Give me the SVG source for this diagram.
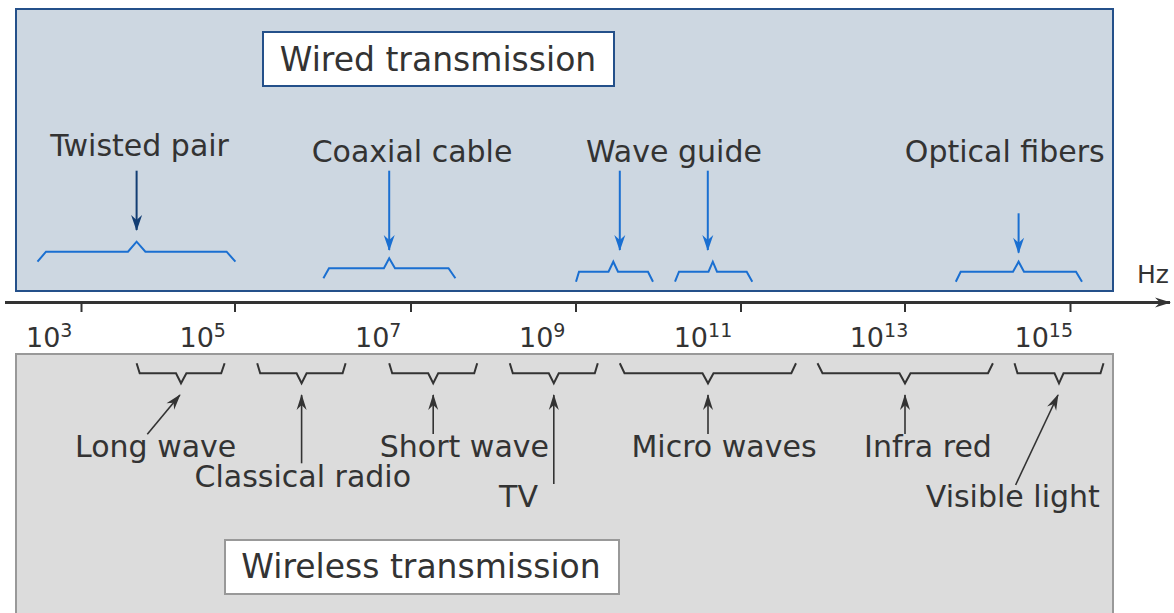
<svg xmlns="http://www.w3.org/2000/svg" width="1174" height="613" viewBox="0 0 1174 613">
<style>
text{font-family:"DejaVu Sans","Verdana",sans-serif;fill:#333}
.lbl{font-size:30px;text-anchor:middle}
.title{font-size:33px;text-anchor:middle}
.tick{font-size:27px}
.sup{font-size:19px}
.bb{fill:none;stroke:#1a6fd1;stroke-width:2}
.db{fill:none;stroke:#333;stroke-width:2}
.ab{stroke:#1a6fd1;stroke-width:2;fill:none}
.an{stroke:#123d73;stroke-width:2;fill:none}
.ad{stroke:#333;stroke-width:1.6;fill:none}
</style>
<defs>
<marker id="hb" markerUnits="userSpaceOnUse" markerWidth="20" markerHeight="14" viewBox="-16 -7 18 14" refX="0" refY="0" orient="auto"><path d="M1,0 L-15,-5.5 L-10,0 L-15,5.5 Z" fill="#1a6fd1"/></marker>
<marker id="hn" markerUnits="userSpaceOnUse" markerWidth="20" markerHeight="14" viewBox="-16 -7 18 14" refX="0" refY="0" orient="auto"><path d="M1,0 L-15,-5.5 L-10,0 L-15,5.5 Z" fill="#123d73"/></marker>
<marker id="hd" markerUnits="userSpaceOnUse" markerWidth="20" markerHeight="14" viewBox="-16 -7 18 14" refX="0" refY="0" orient="auto"><path d="M1,0 L-15,-5 L-10,0 L-15,5 Z" fill="#333"/></marker>
</defs>

<g id="wired-area">
<rect x="16" y="9" width="1097" height="282" fill="#cdd7e1" stroke="#24508a" stroke-width="2"/>
</g>
<g id="wireless-area">
<rect x="16" y="354" width="1097" height="270" fill="#dcdcdc" stroke="#999" stroke-width="2"/>
</g>

<g id="wired-title">
<rect x="263" y="32" width="351" height="54" fill="#fff" stroke="#24508a" stroke-width="2"/>
<text class="title" x="438" y="71">Wired transmission</text>
</g>
<g id="wireless-title">
<rect x="225" y="540" width="394" height="54" fill="#fff" stroke="#999" stroke-width="2"/>
<text class="title" x="421" y="578">Wireless transmission</text>
</g>

<g id="axis">
<line x1="5" y1="302.5" x2="1170" y2="302.5" stroke="#333" stroke-width="3" marker-end="url(#hd)"/>
<g stroke="#333" stroke-width="2">
<line x1="81.5" y1="302" x2="81.5" y2="312"/>
<line x1="235" y1="302" x2="235" y2="312"/>
<line x1="411" y1="302" x2="411" y2="312"/>
<line x1="576" y1="302" x2="576" y2="312"/>
<line x1="741" y1="302" x2="741" y2="312"/>
<line x1="905" y1="302" x2="905" y2="312"/>
<line x1="1070.5" y1="302" x2="1070.5" y2="312"/>
</g>
<text x="1153" y="283" style="font-size:25px;text-anchor:middle">Hz</text>
<text class="tick" x="26" y="346.5">10<tspan class="sup" dy="-9.5">3</tspan></text>
<text class="tick" x="179.5" y="346.5">10<tspan class="sup" dy="-9.5">5</tspan></text>
<text class="tick" x="355" y="346.5">10<tspan class="sup" dy="-9.5">7</tspan></text>
<text class="tick" x="519" y="346.5">10<tspan class="sup" dy="-9.5">9</tspan></text>
<text class="tick" x="673.7" y="346.5">10<tspan class="sup" dy="-9.5">11</tspan></text>
<text class="tick" x="849.7" y="346.5">10<tspan class="sup" dy="-9.5">13</tspan></text>
<text class="tick" x="1014.5" y="346.5">10<tspan class="sup" dy="-9.5">15</tspan></text>
</g>

<g id="twisted-pair">
<text class="lbl" x="139.6" y="156">Twisted pair</text>
<path class="bb" d="M37.5,261.7 L46,251.7 L128,251.7 L136.6,241.7 L145.4,251.7 L226.6,251.7 L235.4,261.7"/>
</g>
<g id="coaxial-cable">
<text class="lbl" x="412" y="162">Coaxial cable</text>
<path class="bb" d="M323.4,278.3 L329,268.3 L383.9,268.3 L389.2,258.3 L395,268.3 L448.5,268.3 L455.4,278.3"/>
</g>
<g id="wave-guide">
<text class="lbl" x="674" y="162">Wave guide</text>
<path class="bb" d="M576,281.7 L579,271.7 L608.5,271.7 L613.3,261.7 L618,271.7 L648,271.7 L653,281.7"/>
<path class="bb" d="M675,281.7 L679,271.7 L708.5,271.7 L712.8,261.7 L717,271.7 L746.7,271.7 L752.3,281.7"/>
</g>
<g id="optical-fibers">
<text class="lbl" x="1004.8" y="162">Optical fibers</text>
<path class="bb" d="M955.8,281.7 L960.7,271.7 L1013,271.7 L1018.6,261.7 L1024,271.7 L1076,271.7 L1082,281.7"/>
</g>

<g id="long-wave">
<path class="db" d="M136.6,363.3 L139.7,373.3 L176,373.3 L181,383.3 L186.4,373.3 L221.2,373.3 L224.6,363.3"/>
<text class="lbl" x="155.7" y="456.7">Long wave</text>
</g>
<g id="classical-radio">
<path class="db" d="M257.2,363.3 L260.2,373.3 L296.6,373.3 L301.6,383.3 L306.6,373.3 L342.6,373.3 L345.6,363.3"/>
<text class="lbl" x="302.8" y="486.7">Classical radio</text>
</g>
<g id="short-wave">
<path class="db" d="M389.2,363.3 L392.2,373.3 L428.2,373.3 L433.2,383.3 L438.2,373.3 L474.2,373.3 L477.2,363.3"/>
<text class="lbl" x="464.4" y="456.7">Short wave</text>
</g>
<g id="tv">
<path class="db" d="M509.8,363.3 L512.8,373.3 L548.8,373.3 L553.8,383.3 L558.8,373.3 L594.8,373.3 L597.8,363.3"/>
<text class="lbl" x="518.5" y="507.3">TV</text>
</g>
<g id="micro-waves">
<path class="db" d="M619.8,363.3 L624.5,373.3 L702.5,373.3 L708,383.3 L713.5,373.3 L791.3,373.3 L796,363.3"/>
<text class="lbl" x="724" y="456.7">Micro waves</text>
</g>
<g id="infra-red">
<path class="db" d="M817.5,363.3 L822.5,373.3 L899.5,373.3 L905,383.3 L910.5,373.3 L988,373.3 L992.9,363.3"/>
<text class="lbl" x="928" y="456.7">Infra red</text>
</g>
<g id="visible-light">
<path class="db" d="M1014.5,363.3 L1017.5,373.3 L1054.5,373.3 L1059,383.3 L1063.5,373.3 L1100.5,373.3 L1103.5,363.3"/>
<text class="lbl" x="1012.8" y="507.3">Visible light</text>
</g>

<g id="connectors">
<line class="an" x1="136.6" y1="170.7" x2="136.6" y2="230" marker-end="url(#hn)"/>
<line class="ab" x1="389.2" y1="170.7" x2="389.2" y2="250" marker-end="url(#hb)"/>
<line class="ab" x1="619.8" y1="170.7" x2="619.8" y2="250" marker-end="url(#hb)"/>
<line class="ab" x1="707.8" y1="170.7" x2="707.8" y2="250" marker-end="url(#hb)"/>
<line class="ab" x1="1018.6" y1="213.3" x2="1018.6" y2="252.7" marker-end="url(#hb)"/>
<line class="ad" x1="147.3" y1="434.3" x2="179.9" y2="395" marker-end="url(#hd)"/>
<line class="ad" x1="301.6" y1="463.3" x2="301.6" y2="395" marker-end="url(#hd)"/>
<line class="ad" x1="433.2" y1="434" x2="433.2" y2="395" marker-end="url(#hd)"/>
<line class="ad" x1="553.8" y1="484" x2="553.8" y2="395" marker-end="url(#hd)"/>
<line class="ad" x1="708" y1="434" x2="708" y2="395" marker-end="url(#hd)"/>
<line class="ad" x1="905" y1="434" x2="905" y2="395" marker-end="url(#hd)"/>
<line class="ad" x1="1015.6" y1="485" x2="1058" y2="395" marker-end="url(#hd)"/>
</g>
</svg>
